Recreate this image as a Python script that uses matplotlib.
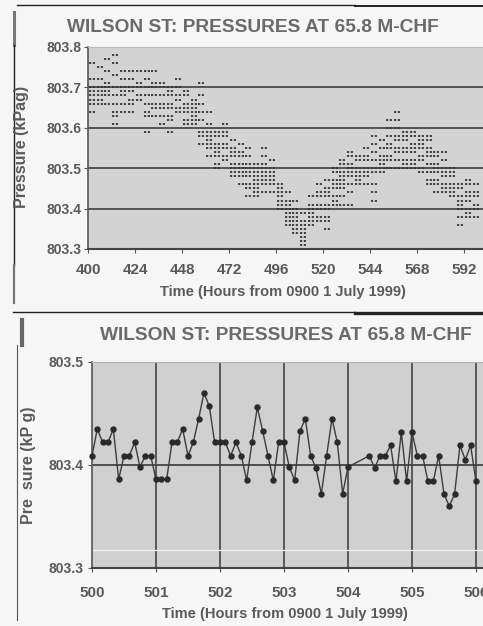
import numpy as np
import matplotlib
matplotlib.use('Agg')
import matplotlib.pyplot as plt
from matplotlib.lines import Line2D

plt.rcParams['font.family'] = ['Liberation Sans', 'DejaVu Sans']
plt.rcParams['font.weight'] = 'bold'

# ---- top chart: 5-min readings, 400-600 h in 4 h bins
bin_start = [400, 404, 408, 412, 416, 420, 424, 428, 432, 436, 440, 444,
             448, 452, 456, 460, 464, 468, 472, 476, 480, 484, 488, 492,
             496, 500, 504, 508, 512, 516, 520, 524, 528, 532, 536, 540,
             544, 548, 552, 556, 560, 564, 568, 572, 576, 580, 584, 588,
             592, 596]
bin_levels = [
    [803.76, 803.72, 803.70, 803.69, 803.68, 803.67, 803.66, 803.64],
    [803.75, 803.72, 803.70, 803.69, 803.68, 803.67, 803.66],
    [803.77, 803.74, 803.71, 803.70, 803.69, 803.68, 803.66],
    [803.78, 803.76, 803.73, 803.70, 803.68, 803.66, 803.64, 803.63, 803.61],
    [803.74, 803.72, 803.70, 803.69, 803.68, 803.66, 803.64],
    [803.74, 803.72, 803.70, 803.69, 803.67, 803.66, 803.64],
    [803.74, 803.71, 803.70, 803.68, 803.67],
    [803.74, 803.72, 803.70, 803.68, 803.66, 803.64, 803.63, 803.59],
    [803.74, 803.71, 803.70, 803.68, 803.66, 803.65, 803.63],
    [803.71, 803.70, 803.68, 803.66, 803.65, 803.63, 803.61],
    [803.70, 803.69, 803.68, 803.66, 803.65, 803.63, 803.62, 803.59],
    [803.72, 803.70, 803.68, 803.67, 803.65, 803.64],
    [803.69, 803.68, 803.66, 803.65, 803.64, 803.62, 803.61],
    [803.67, 803.66, 803.65, 803.64, 803.63, 803.62, 803.61],
    [803.71, 803.68, 803.66, 803.64, 803.62, 803.59, 803.58, 803.56],
    [803.64, 803.61, 803.59, 803.58, 803.57, 803.56, 803.55, 803.53],
    [803.59, 803.58, 803.56, 803.55, 803.54, 803.53, 803.51, 803.50],
    [803.61, 803.59, 803.58, 803.56, 803.55, 803.53, 803.52],
    [803.57, 803.55, 803.54, 803.53, 803.51, 803.50, 803.49, 803.48],
    [803.56, 803.54, 803.53, 803.51, 803.50, 803.49, 803.48, 803.46],
    [803.55, 803.53, 803.51, 803.50, 803.49, 803.48, 803.46, 803.45, 803.43],
    [803.51, 803.50, 803.49, 803.48, 803.47, 803.46, 803.45, 803.44, 803.43],
    [803.55, 803.53, 803.51, 803.50, 803.49, 803.48, 803.47, 803.46, 803.44],
    [803.52, 803.50, 803.49, 803.48, 803.47, 803.46, 803.44],
    [803.46, 803.45, 803.44, 803.43, 803.42, 803.41, 803.40],
    [803.44, 803.42, 803.41, 803.40, 803.39, 803.38, 803.37, 803.36],
    [803.42, 803.40, 803.39, 803.38, 803.37, 803.36, 803.35, 803.34],
    [803.39, 803.37, 803.36, 803.35, 803.34, 803.33, 803.32, 803.31],
    [803.43, 803.41, 803.40, 803.39, 803.38, 803.37, 803.36],
    [803.46, 803.44, 803.43, 803.41, 803.40, 803.38, 803.37],
    [803.47, 803.45, 803.44, 803.43, 803.41, 803.40, 803.38, 803.37, 803.35],
    [803.50, 803.49, 803.47, 803.46, 803.45, 803.43, 803.42, 803.41],
    [803.52, 803.51, 803.49, 803.48, 803.47, 803.46, 803.45, 803.43, 803.41],
    [803.54, 803.53, 803.51, 803.50, 803.49, 803.48, 803.46, 803.44, 803.41],
    [803.53, 803.52, 803.50, 803.49, 803.48, 803.47, 803.46],
    [803.55, 803.53, 803.52, 803.50, 803.49, 803.48, 803.46],
    [803.58, 803.56, 803.54, 803.52, 803.50, 803.49, 803.46, 803.44, 803.42],
    [803.57, 803.55, 803.53, 803.52, 803.51, 803.50, 803.49],
    [803.62, 803.60, 803.58, 803.56, 803.55, 803.53, 803.52, 803.50],
    [803.64, 803.62, 803.60, 803.58, 803.57, 803.55, 803.54, 803.52, 803.50],
    [803.59, 803.58, 803.57, 803.55, 803.54, 803.52, 803.51, 803.50],
    [803.59, 803.58, 803.56, 803.55, 803.54, 803.52, 803.51, 803.50],
    [803.58, 803.57, 803.56, 803.55, 803.53, 803.52, 803.50, 803.49],
    [803.58, 803.57, 803.55, 803.54, 803.53, 803.51, 803.49, 803.47, 803.46],
    [803.54, 803.53, 803.51, 803.50, 803.49, 803.47, 803.46, 803.44],
    [803.54, 803.52, 803.50, 803.49, 803.48, 803.46, 803.45, 803.44],
    [803.50, 803.49, 803.48, 803.46, 803.45, 803.44, 803.43],
    [803.46, 803.45, 803.43, 803.42, 803.41, 803.40, 803.38, 803.36],
    [803.47, 803.46, 803.44, 803.43, 803.42, 803.40, 803.39, 803.38],
    [803.46, 803.44, 803.43, 803.41, 803.40, 803.38],
]
top_xticks = [400, 424, 448, 472, 496, 520, 544, 568, 592]
top_yticks = [803.3, 803.4, 803.5, 803.6, 803.7, 803.8]

# ---- bottom chart: 5-min readings 500-506 h (step index, value)
step = [0, 1, 2, 3, 4, 5, 6, 7, 8, 9, 10, 11, 12, 13, 14, 15, 16, 17, 18,
        19, 20, 21, 22, 23, 24, 25, 26, 27, 28, 29, 30, 31, 32, 33, 34, 35,
        36, 37, 38, 39, 40, 41, 42, 43, 44, 45, 46, 47, 48,
        52, 53, 54, 55, 56, 57, 58, 59, 60, 61, 62, 63, 64, 65, 66, 67, 68,
        69, 70, 71, 72]
pressure = [803.409, 803.435, 803.422, 803.422, 803.435, 803.386, 803.409,
            803.409, 803.422, 803.398, 803.409, 803.409, 803.386, 803.386,
            803.386, 803.422, 803.422, 803.435, 803.409, 803.422, 803.445,
            803.470, 803.457, 803.422, 803.422, 803.422, 803.409, 803.422,
            803.409, 803.385, 803.422, 803.456, 803.433, 803.409, 803.385,
            803.422, 803.422, 803.398, 803.385, 803.433, 803.445, 803.409,
            803.397, 803.372, 803.409, 803.445, 803.422, 803.372, 803.398,
            803.409, 803.397, 803.409, 803.409, 803.419, 803.384, 803.432,
            803.384, 803.432, 803.409, 803.409, 803.384, 803.384, 803.409,
            803.372, 803.360, 803.372, 803.419, 803.405, 803.419, 803.384]
bot_xticks = [500, 501, 502, 503, 504, 505, 506]
bot_yticks = [803.3, 803.4, 803.5]

W, H = 483, 626
fig = plt.figure(figsize=(W / 100, H / 100), dpi=100)
fig.patch.set_facecolor('#f6f6f6')
txt = '#5a5a5a'


def px(x, y):
    return x / W, 1 - y / H


# ---------- top
ax1 = fig.add_axes([88 / W, 1 - 249 / H, 1 - 88 / W, 202 / H])
ax1.set_facecolor('#d3d3d3')
for t, lv in zip(bin_start, bin_levels):
    ax1.hlines(lv, t + 0.4, t + 3.7, colors='#333333', lw=1.3,
               linestyles=(0, (1.2, 0.9)))
for y in top_yticks[1:-1]:
    ax1.axhline(y, color='#4a4a4a', lw=1.3, zorder=1)
ax1.set_xlim(400, 601.7)
ax1.set_ylim(803.3, 803.8)
ax1.set_xticks(top_xticks)
ax1.set_yticks(top_yticks)
ax1.set_yticklabels(['%.1f' % v for v in top_yticks])
ax1.tick_params(labelsize=10, labelcolor=txt, color='#555', length=3,
                pad=2)
ax1.tick_params(axis='x', labelsize=11, pad=7)
ax1.spines['top'].set_color('#b8b8b8')
ax1.spines['right'].set_visible(False)
ax1.spines['left'].set_color('#555')
ax1.spines['bottom'].set_color('#444')
ax1.spines['left'].set_linewidth(1.2)
ax1.spines['bottom'].set_linewidth(1.5)

fig.text(*px(253, 27), 'WILSON ST: PRESSURES AT 65.8 M-CHF', ha='center',
         va='center', fontsize=13.8, color='#6a6a6a')
fig.text(*px(283, 292), 'Time (Hours from 0900 1 July 1999)', ha='center',
         va='center', fontsize=10.5, color=txt)
fig.text(*px(22, 147), 'Pressure (kPag)', ha='center', va='center',
         rotation=90, fontsize=11.5, color=txt)

# ---------- bottom
ax2 = fig.add_axes([92 / W, 1 - 568 / H, 1 - 92 / W, 206 / H])
ax2.set_facecolor('#d0d0d0')
t2 = [500 + k / 12 for k in step]
ax2.plot(t2, pressure, color='#3c3c3c', lw=1.0, marker='o', ms=3.6,
         mfc='#2a2a2a', mec='#2a2a2a', zorder=3, clip_on=False)
for x in bot_xticks[1:]:
    ax2.axvline(x, color='#444', lw=1.2, zorder=1)
ax2.axhline(803.4, color='#444', lw=1.3, zorder=1)
ax2.axhline(803.317, color='#f2f2f2', lw=0.9, zorder=1)
ax2.set_xlim(500, 506.11)
ax2.set_ylim(803.3, 803.5)
ax2.set_xticks(bot_xticks)
ax2.set_yticks(bot_yticks)
ax2.set_yticklabels(['%.1f' % v for v in bot_yticks])
ax2.tick_params(labelsize=10, labelcolor=txt, color='#555', length=3,
                pad=3)
ax2.tick_params(axis='x', labelsize=11, pad=10)
ax2.spines['top'].set_color('#b0b0b0')
ax2.spines['right'].set_visible(False)
ax2.spines['left'].set_color('#555')
ax2.spines['bottom'].set_color('#444')
ax2.spines['left'].set_linewidth(1.2)
ax2.spines['bottom'].set_linewidth(1.5)

fig.text(*px(286, 336), 'WILSON ST: PRESSURES AT 65.8 M-CHF', ha='center',
         va='center', fontsize=13.8, color='#6a6a6a')
fig.text(*px(285, 614), 'Time (Hours from 0900 1 July 1999)', ha='center',
         va='center', fontsize=10.5, color=txt)
fig.text(*px(29, 465), 'Pre  sure (kP g)', ha='center', va='center',
         rotation=90, fontsize=11.5, color=txt)

# ---------- scan edges
def fline(x0, y0, x1, y1, c='#222', lw=1.2):
    fig.add_artist(Line2D([x0 / W, x1 / W], [1 - y0 / H, 1 - y1 / H],
                          color=c, lw=lw))


fline(17, 5, 355, 5, lw=1.0)
fline(355, 6, 483, 6, lw=1.4)
fline(14, 12, 14, 45, c='#777', lw=2.2)
fline(14, 45, 14, 265, lw=1.0)
fline(14, 265, 14, 303, c='#777', lw=1.6)
fline(13, 312, 355, 312, lw=1.0)
fline(355, 313, 483, 313, lw=2.4)
fline(22, 320, 22, 345, c='#666', lw=3.0)
fline(17, 345, 17, 620, c='#555', lw=0.8)

fig.savefig('out.png', dpi=100, facecolor=fig.get_facecolor())
